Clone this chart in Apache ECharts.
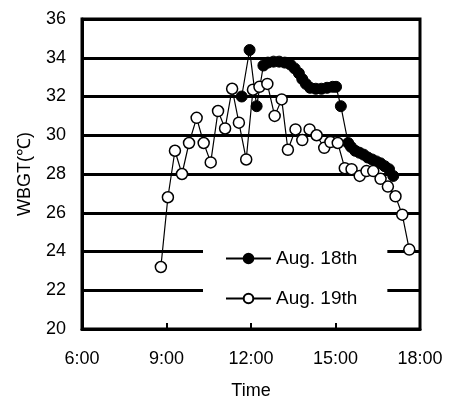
<!DOCTYPE html>
<html><head><meta charset="utf-8">
<script src="https://cdn.jsdelivr.net/npm/echarts@6/dist/echarts.min.js"></script>
<style>html,body{margin:0;padding:0;background:#fff}#c{width:449px;height:405px}</style>
</head><body><div id="c"></div>
<script>
var xTicks = ['6:00', '9:00', '12:00', '15:00', '18:00'];
var aug18Time = [11.67, 11.95, 12.2, 12.44, 12.6, 12.8, 13.0, 13.2, 13.4, 13.55, 13.7, 13.82, 13.95, 14.1, 14.3, 14.5, 14.7, 14.9, 15.02, 15.19, 15.45, 15.55, 15.7, 15.85, 16.0, 16.15, 16.3, 16.45, 16.6, 16.75, 16.9, 17.05];
var aug18Wbgt = [32.0, 34.4, 31.5, 33.6, 33.75, 33.8, 33.8, 33.75, 33.65, 33.45, 33.2, 32.9, 32.65, 32.45, 32.4, 32.4, 32.45, 32.5, 32.5, 31.5, 29.6, 29.4, 29.2, 29.1, 29.0, 28.85, 28.75, 28.65, 28.55, 28.4, 28.25, 27.9];
var aug19Time = [8.8, 9.05, 9.3, 9.55, 9.8, 10.07, 10.32, 10.57, 10.83, 11.08, 11.33, 11.57, 11.83, 12.07, 12.3, 12.58, 12.84, 13.09, 13.31, 13.58, 13.82, 14.08, 14.33, 14.6, 14.82, 15.08, 15.33, 15.57, 15.86, 16.1, 16.34, 16.6, 16.86, 17.13, 17.37, 17.62];
var aug19Wbgt = [23.2, 26.8, 29.2, 28.0, 29.6, 30.9, 29.6, 28.6, 31.25, 30.35, 32.4, 30.65, 28.75, 32.35, 32.5, 32.65, 31.0, 31.85, 29.25, 30.3, 29.75, 30.3, 30.0, 29.35, 29.65, 29.6, 28.3, 28.25, 27.9, 28.15, 28.15, 27.75, 27.35, 26.85, 25.9, 24.1];

function pairs(xs, ys) { return xs.map(function (x, i) { return [x, ys[i]]; }); }

var font = 'Liberation Sans, Arial, sans-serif';
var chart = echarts.init(document.getElementById('c'), null, {renderer: 'canvas'});
chart.setOption({
  animation: false,
  backgroundColor: '#fff',
  textStyle: {fontFamily: font},
  grid: {left: 82, right: 29, top: 19, bottom: 71, show: true, borderColor: '#000', borderWidth: 3, backgroundColor: 'transparent'},
  legend: {
    orient: 'vertical', left: 203, top: 243,
    backgroundColor: '#fff',
    padding: [6, 30, 6, 22],
    itemWidth: 45, itemHeight: 12, itemGap: 21,
    textStyle: {fontSize: 19, color: '#000', fontFamily: font},
    data: ['Aug. 18th', 'Aug. 19th']
  },
  xAxis: {
    type: 'value', min: 6, max: 18, interval: 3,
    name: 'Time', nameLocation: 'middle', nameGap: 53,
    nameTextStyle: {fontSize: 18, color: '#000'},
    axisLine: {show: true, lineStyle: {color: '#000', width: 3}},
    axisTick: {show: true, inside: true, length: 6, lineStyle: {color: '#000', width: 2}},
    axisLabel: {fontSize: 18, color: '#000', margin: 21, formatter: function (v) { return xTicks[Math.round((v - 6) / 3)]; }},
    splitLine: {show: false}
  },
  yAxis: {
    type: 'value', min: 20, max: 36, interval: 2,
    name: 'WBGT(℃)', nameLocation: 'middle', nameGap: 48,
    nameTextStyle: {fontSize: 18, color: '#000'},
    axisLine: {show: true, lineStyle: {color: '#000', width: 3}},
    axisTick: {show: false},
    axisLabel: {fontSize: 18, color: '#000', margin: 16},
    splitLine: {show: true, lineStyle: {color: '#000', width: 3}}
  },
  series: [
    {
      name: 'Aug. 18th', type: 'line', data: pairs(aug18Time, aug18Wbgt),
      symbol: 'circle', symbolSize: 11, z: 3,
      lineStyle: {color: '#000', width: 1.2},
      itemStyle: {color: '#000', borderColor: '#000', borderWidth: 1}
    },
    {
      name: 'Aug. 19th', type: 'line', data: pairs(aug19Time, aug19Wbgt),
      symbol: 'circle', symbolSize: 11, z: 4,
      lineStyle: {color: '#000', width: 1.2},
      itemStyle: {color: '#fff', borderColor: '#000', borderWidth: 1.5}
    }
  ]
});
</script></body></html>
